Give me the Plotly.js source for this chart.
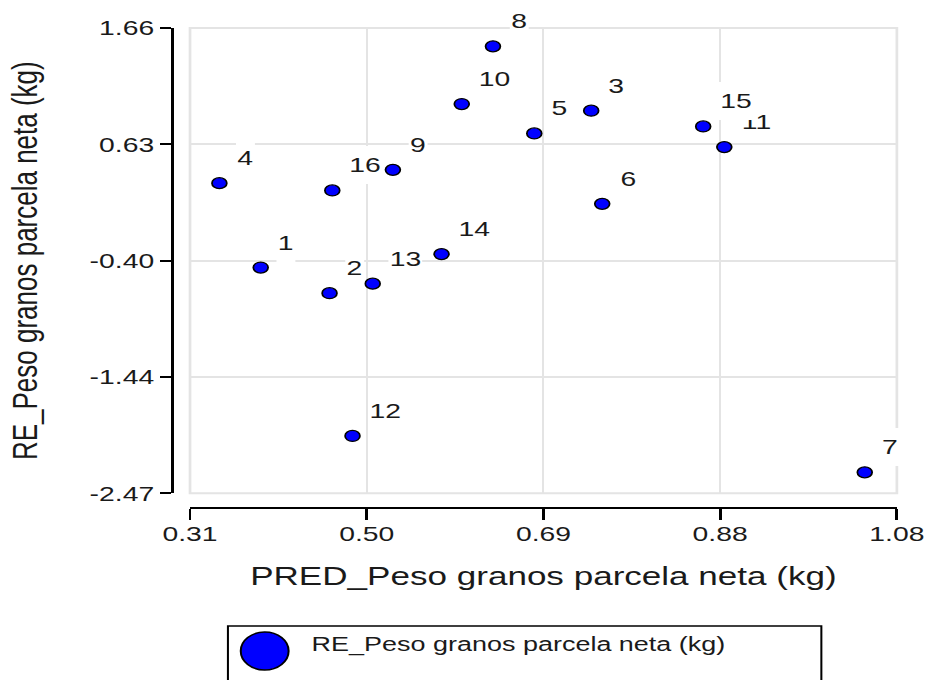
<!DOCTYPE html>
<html>
<head>
<meta charset="utf-8">
<script src="https://cdn.plot.ly/plotly-3.0.1.min.js"></script>
<style>
  html, body { margin: 0; padding: 0; background: #ffffff; }
  #wrap { width: 936px; height: 680px; overflow: hidden; position: relative; }
  /* the chart is laid out narrow and stretched horizontally to the full width */
  #chart { width: 694px; height: 680px; transform-origin: 0 0; }
</style>
</head>
<body>
<div id="wrap"><div id="chart"></div></div>
<script>
// Case numbers shown beside each point
const caseLabels = ['1','2','3','4','5','6','7','8','9','10','11','12','13','14','15','16'];
// Predicted values (x)
const predValues = [0.387, 0.462, 0.747, 0.342, 0.685, 0.759, 1.045, 0.640,
                    0.531, 0.606, 0.892, 0.487, 0.509, 0.584, 0.869, 0.465];
// Residuals (y)
const residValues = [-0.466, -0.694, 0.926, 0.283, 0.724, 0.099, -2.284, 1.497,
                     0.401, 0.985, 0.603, -1.961, -0.609, -0.347, 0.786, 0.218];

// Axis ticks
const xTickVals = [0.31, 0.5025, 0.695, 0.8875, 1.08];
const xTickText = ['0.31', '0.50', '0.69', '0.88', '1.08'];
const yTickVals = [-2.47, -1.4375, -0.405, 0.6275, 1.66];
const yTickText = ['-2.47', '-1.44', '-0.40', '0.63', '1.66'];

const xTitle = 'PRED_Peso granos parcela neta (kg)';
const yTitle = 'RE_Peso granos parcela neta (kg)';
const seriesName = 'RE_Peso granos parcela neta (kg)';

const W = 694, H = 680;
const M = { l: 128, r: 29, t: 28, b: 172 };
const PW = W - M.l - M.r, PH = H - M.t - M.b;
const STRETCH = 936 / W;
document.getElementById('chart').style.transform = 'scaleX(' + STRETCH + ')';

// pixel -> paper helpers for the legend box below the plot
const px2x = px => (px - M.l) / PW;
const px2y = py => (H - M.b - py) / PH;

const FONT = 'Liberation Sans, Arial, sans-serif';
const INK = '#1a1a1a';
const GRID = '#e4e4e4';

const trace = {
  type: 'scatter',
  mode: 'markers',
  x: predValues,
  y: residValues,
  name: seriesName,
  showlegend: false,
  marker: { color: '#0000ff', size: 11, line: { color: '#000000', width: 1.3 } },
  hoverinfo: 'x+y'
};

const pointLabels = caseLabels.map((t, i) => ({
  x: predValues[i], y: residValues[i], xref: 'x', yref: 'y',
  text: t, showarrow: false,
  xanchor: 'left', yanchor: 'middle',
  xshift: 12, yshift: 25,
  height: 36, borderpad: 1, borderwidth: 0,
  bgcolor: '#ffffff',
  font: { family: FONT, size: 21, color: INK }
}));

const legendText = {
  xref: 'paper', yref: 'paper',
  x: px2x(229), y: px2y(644),
  xanchor: 'left', yanchor: 'middle',
  text: seriesName, showarrow: false,
  font: { family: FONT, size: 20, color: INK }
};

const layout = {
  width: W, height: H,
  margin: M,
  paper_bgcolor: '#ffffff',
  plot_bgcolor: '#ffffff',
  showlegend: false,
  font: { family: FONT, color: INK },
  xaxis: {
    range: [0.31, 1.08],
    domain: [0.024, 1],
    anchor: 'free', position: 0,
    tickmode: 'array', tickvals: xTickVals, ticktext: xTickText,
    ticks: 'outside', ticklen: 11, tickwidth: 2.2, tickcolor: '#000000',
    ticklabelstandoff: -5,
    showline: true, linecolor: '#000000', linewidth: 2.4,
    showgrid: true, gridcolor: GRID, gridwidth: 1.5,
    zeroline: false,
    tickfont: { family: FONT, size: 21, color: INK },
    title: { text: xTitle, font: { family: FONT, size: 26, color: INK }, standoff: 22 }
  },
  yaxis: {
    range: [-2.47, 1.66],
    domain: [0.0306, 1],
    anchor: 'free', position: 0,
    tickmode: 'array', tickvals: yTickVals, ticktext: yTickText,
    ticks: 'outside', ticklen: 8.5, tickwidth: 2.2, tickcolor: '#000000',
    showline: true, linecolor: '#000000', linewidth: 2,
    showgrid: true, gridcolor: GRID, gridwidth: 2,
    zeroline: false,
    tickfont: { family: FONT, size: 21, color: INK },
    title: { text: yTitle, font: { family: FONT, size: 26, color: INK }, standoff: 30 }
  },
  shapes: [
    // frame around the plotting area
    { type: 'rect', xref: 'x domain', yref: 'y domain', x0: 0, x1: 1, y0: 0, y1: 1,
      line: { color: GRID, width: 2 }, layer: 'below' },
    // legend box and its symbol
    { type: 'rect', xref: 'paper', yref: 'paper',
      x0: px2x(169), x1: px2x(609), y0: px2y(705), y1: px2y(626),
      line: { color: '#000000', width: 1.5 }, fillcolor: '#ffffff', layer: 'above' },
    { type: 'circle', xref: 'paper', yref: 'paper',
      x0: px2x(178.5), x1: px2x(214), y0: px2y(670), y1: px2y(632),
      line: { color: '#000000', width: 1.5 }, fillcolor: '#0000ff', layer: 'above' }
  ],
  annotations: pointLabels.concat([legendText])
};

Plotly.newPlot('chart', [trace], layout, { displayModeBar: false, staticPlot: true });
</script>
</body>
</html>
